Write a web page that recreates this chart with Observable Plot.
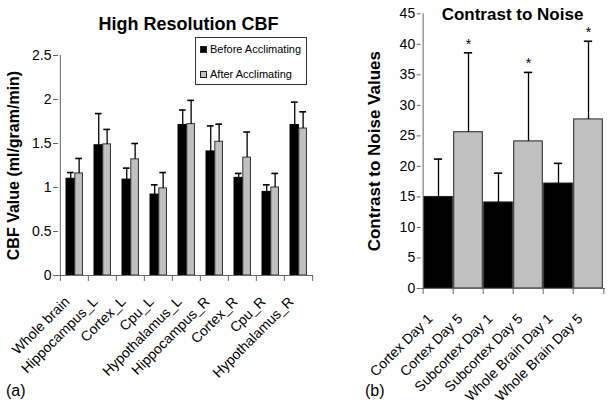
<!DOCTYPE html>
<html><head><meta charset="utf-8">
<script src="https://cdn.jsdelivr.net/npm/d3@7"></script>
<script src="https://cdn.jsdelivr.net/npm/@observablehq/plot@0.6"></script>
<style>
body{margin:0;background:#fff;font-family:"Liberation Sans",Arial,sans-serif;}
#wrap{position:relative;width:611px;height:408px;overflow:hidden;background:#fff;}
#wrap svg{position:absolute;top:0;overflow:visible;}
.t{position:absolute;white-space:nowrap;line-height:1;color:#000;font-family:"Liberation Sans",Arial,sans-serif;}
.title{font-weight:bold;transform:translateX(-50%);}
.legend{position:absolute;border:1px solid #333;background:#fff;box-sizing:border-box;}
.sw{position:absolute;width:7px;height:7px;box-sizing:border-box;border:1px solid #222;}
g[aria-label="y-axis label"] text{font-weight:bold;}
.cbf g[aria-label="y-axis label"] text{font-size:16px;}
.cnr g[aria-label="y-axis label"] text{font-size:17px;}
</style></head><body><div id="wrap"></div>
<script>
// ---- Panel (a): High Resolution CBF ----
const regions = ["Whole brain","Hippocampus_L","Cortex_L","Cpu_L","Hypothalamus_L","Hippocampus_R","Cortex_R","Cpu_R","Hypothalamus_R"];
const beforeVals = [1.10, 1.48, 1.09, 0.92, 1.71, 1.41, 1.11, 0.95, 1.71];
const beforeErr  = [0.07, 0.36, 0.13, 0.11, 0.17, 0.29, 0.05, 0.08, 0.26];
const afterVals  = [1.16, 1.49, 1.32, 0.99, 1.72, 1.52, 1.34, 1.00, 1.67];
const afterErr   = [0.17, 0.17, 0.18, 0.18, 0.27, 0.20, 0.29, 0.16, 0.19];
const cbfTicks = [0, 0.5, 1, 1.5, 2, 2.5];
const seriesNames = ["Before Acclimating", "After Acclimating"];

// ---- Panel (b): Contrast to Noise ----
const cnrCats = ["Cortex Day 1","Cortex Day 5","Subcortex Day 1","Subcortex Day 5","Whole Brain Day 1","Whole Brain Day 5"];
const cnrDay  = ["Day 1","Day 5","Day 1","Day 5","Day 1","Day 5"];
const cnrVals = [15.0, 25.6, 14.1, 24.1, 17.2, 27.7];
const cnrErr  = [6.2, 13.0, 4.8, 11.3, 3.3, 12.8];
const cnrSig  = [false, true, false, true, false, true];
const cnrTicks = [0,5,10,15,20,25,30,35,40,45];

const FONT = "Liberation Sans, Arial, sans-serif";
const BLACK = "#000", GRAY = "#c0c0c0";
const H = 408;
const wrap = document.getElementById("wrap");

// ----- left plot -----
const W1 = 318, m1 = {l: 58, r: 5, t: 55, b: 133};
const bw1 = (W1 - m1.l - m1.r) / regions.length;
const cbf = regions.map((r, i) => ({region: r, before: beforeVals[i], beforeErr: beforeErr[i], after: afterVals[i], afterErr: afterErr[i]}));
const segB = [6, 14.8], segA = [14.8, 22.8], capHalf = 3.5;
const barOpts = s => ({insetLeft: s[0], insetRight: bw1 - s[1]});
const cDx = s => (s[0] + s[1]) / 2 - bw1 / 2;
const capOpts = s => { const c = (s[0] + s[1]) / 2; return {insetLeft: c - capHalf, insetRight: bw1 - c - capHalf}; };

const left = Plot.plot({
  width: W1, height: H, marginLeft: m1.l, marginRight: m1.r, marginTop: m1.t, marginBottom: m1.b,
  className: "cbf",
  style: {fontFamily: FONT, fontSize: "14px", color: "#000", background: "transparent", overflow: "visible"},
  x: {domain: regions, padding: 0, axis: null},
  y: {domain: [0, 2.5]},
  marks: [
    Plot.barY(cbf, {x: "region", y: "before", fill: BLACK, stroke: "#000", strokeWidth: 1, ...barOpts(segB)}),
    Plot.barY(cbf, {x: "region", y: "after", fill: GRAY, stroke: "#333", strokeWidth: 1, ...barOpts(segA)}),
    Plot.ruleX(cbf, {x: "region", y1: "before", y2: d => d.before + d.beforeErr, dx: cDx(segB), stroke: "#000", strokeWidth: 1.3}),
    Plot.tickY(cbf, {x: "region", y: d => d.before + d.beforeErr, ...capOpts(segB), stroke: "#000", strokeWidth: 1.6}),
    Plot.ruleX(cbf, {x: "region", y1: "after", y2: d => d.after + d.afterErr, dx: cDx(segA), stroke: "#000", strokeWidth: 1.3}),
    Plot.tickY(cbf, {x: "region", y: d => d.after + d.afterErr, ...capOpts(segA), stroke: "#000", strokeWidth: 1.6}),
    Plot.ruleY([0], {stroke: "#666"}),
    Plot.ruleX([regions[0]], {x: d => d, dx: -bw1 / 2, stroke: "#666"}),
    Plot.ruleX(regions, {x: d => d, y1: 0, y2: 0, insetBottom: -6, dx: -bw1 / 2, stroke: "#666"}),
    Plot.ruleX([regions[regions.length - 1]], {x: d => d, y1: 0, y2: 0, insetBottom: -6, dx: bw1 / 2, stroke: "#666"}),
    Plot.axisY({ticks: cbfTicks, tickFormat: d => String(d), tickSize: 5, tickPadding: 2, stroke: "#666",
      label: "CBF Value (ml/gram/min)", labelArrow: "none", labelAnchor: "center", labelOffset: 51}),
    Plot.text(regions, {x: d => d, frameAnchor: "bottom", text: d => d, rotate: -45, textAnchor: "end", lineAnchor: "bottom", dx: -4, dy: 27, fontSize: 14})
  ]
});
left.style.left = "0px";
wrap.appendChild(left);

// ----- right plot -----
const X2 = 318, W2 = 611 - X2, m2 = {l: 102.7, r: 6, t: 13.3, b: 120};
const bw2 = (W2 - m2.l - m2.r) / cnrCats.length;
const cnr = cnrCats.map((c, i) => ({cat: c, day: cnrDay[i], value: cnrVals[i], err: cnrErr[i], sig: cnrSig[i]}));
const cap2 = 4.5;
const right = Plot.plot({
  width: W2, height: H, marginLeft: m2.l, marginRight: m2.r, marginTop: m2.t, marginBottom: m2.b,
  className: "cnr",
  style: {fontFamily: FONT, fontSize: "14px", color: "#000", background: "transparent", overflow: "visible"},
  x: {domain: cnrCats, padding: 0, axis: null},
  y: {domain: [0, 45]},
  color: {domain: ["Day 1", "Day 5"], range: [BLACK, GRAY]},
  marks: [
    Plot.barY(cnr, {x: "cat", y: "value", fill: "day", stroke: "#222", strokeWidth: 1, insetLeft: 0.7, insetRight: 0.7}),
    Plot.ruleX(cnr, {x: "cat", y1: "value", y2: d => d.value + d.err, stroke: "#000", strokeWidth: 1.3}),
    Plot.tickY(cnr, {x: "cat", y: d => d.value + d.err, insetLeft: bw2 / 2 - cap2, insetRight: bw2 / 2 - cap2, stroke: "#000", strokeWidth: 1.6}),
    Plot.text(cnr.filter(d => d.sig), {x: "cat", y: d => d.value + d.err, text: () => "*", lineAnchor: "bottom", dy: -4, fontSize: 14}),
    Plot.ruleY([0], {stroke: "#666"}),
    Plot.ruleX([cnrCats[0]], {x: d => d, dx: -bw2 / 2, stroke: "#666"}),
    Plot.ruleX(cnrCats, {x: d => d, y1: 0, y2: 0, insetBottom: -6, dx: -bw2 / 2, stroke: "#666"}),
    Plot.ruleX([cnrCats[cnrCats.length - 1]], {x: d => d, y1: 0, y2: 0, insetBottom: -6, dx: bw2 / 2, stroke: "#666"}),
    Plot.axisY({ticks: cnrTicks, tickFormat: d => String(d), tickSize: 4, tickPadding: 2, stroke: "#666",
      label: "Contrast to Noise Values", labelArrow: "none", labelAnchor: "center", labelOffset: 53}),
    Plot.text(cnrCats, {x: d => d, frameAnchor: "bottom", text: d => d, rotate: -45, textAnchor: "end", lineAnchor: "bottom", dx: -5, dy: 31, fontSize: 14})
  ]
});
right.style.left = X2 + "px";
wrap.appendChild(right);

// ----- titles, legend, panel letters -----
function addText(txt, cls, css) {
  const d = document.createElement("div");
  d.className = "t " + cls;
  d.textContent = txt;
  Object.assign(d.style, css);
  wrap.appendChild(d);
  return d;
}
addText("High Resolution CBF", "title", {left: "188.5px", top: "14.8px", fontSize: "18px"});
addText("Contrast to Noise", "title", {left: "512.5px", top: "5.6px", fontSize: "17px"});
addText("(a)", "", {left: "6px", top: "382.5px", fontSize: "16px"});
addText("(b)", "", {left: "365px", top: "382.5px", fontSize: "16px"});

const lg = document.createElement("div");
lg.className = "legend";
Object.assign(lg.style, {left: "195px", top: "36.5px", width: "112px", height: "48px"});
wrap.appendChild(lg);
const swColors = [BLACK, GRAY];
seriesNames.forEach((name, i) => {
  const sw = document.createElement("div");
  sw.className = "sw";
  Object.assign(sw.style, {left: "3.5px", top: (8.5 + i * 25) + "px", background: swColors[i]});
  lg.appendChild(sw);
  const tx = document.createElement("div");
  tx.className = "t";
  tx.textContent = name;
  Object.assign(tx.style, {left: "14px", top: (6.2 + i * 25) + "px", fontSize: "11px"});
  lg.appendChild(tx);
});
</script>
</body></html>
